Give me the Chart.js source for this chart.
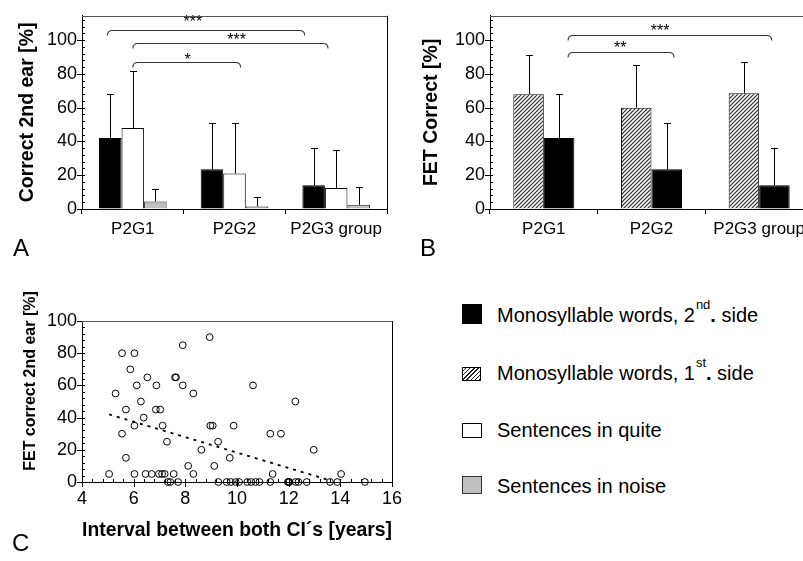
<!DOCTYPE html>
<html>
<head>
<meta charset="utf-8">
<script src="https://cdn.jsdelivr.net/npm/chart.js@4.4.1/dist/chart.umd.min.js"></script>
<style>
html,body{margin:0;padding:0;width:803px;height:561px;overflow:hidden;background:#fff;font-family:"Liberation Sans",Arial,sans-serif;color:#000;}
.box{position:absolute;}
.panel{position:absolute;font-size:24px;line-height:24px;}
.leg{position:absolute;left:497px;font-size:20px;line-height:20px;white-space:nowrap;}
.sup{font-size:13px;line-height:0;position:relative;top:-13px;margin-left:1px;}
.dot{font-weight:bold;line-height:0;}
.sw{position:absolute;left:462px;box-sizing:border-box;}
.ytitle{position:absolute;font-weight:bold;white-space:nowrap;text-align:center;transform:rotate(-90deg);}
</style>
</head>
<body>
<div class="box" style="left:0;top:0;width:400px;height:250px"><canvas id="chartA" width="400" height="250"></canvas></div>
<div class="box" style="left:400px;top:0;width:420px;height:250px"><canvas id="chartB" width="420" height="250"></canvas></div>
<div class="box" style="left:0;top:290px;width:410px;height:271px"><canvas id="chartC" width="410" height="271"></canvas></div>

<div class="panel" style="left:13px;top:236px">A</div>
<div class="panel" style="left:420px;top:236px">B</div>
<div class="panel" style="left:12px;top:531px">C</div>

<div class="ytitle" style="left:-70px;top:371px;width:200px;font-size:16px;line-height:20px">FET correct 2nd ear [%]</div>

<div class="sw" style="top:304px;width:20px;height:20px;background:#000"></div>
<div class="sw" style="top:367px;width:19px;height:14px;border:1px solid #000;background:repeating-linear-gradient(-45deg,#222 0 1px,#fff 1px 3px)"></div>
<div class="sw" style="top:423px;width:20px;height:15px;border:1px solid #000;background:#fff"></div>
<div class="sw" style="top:476px;width:20px;height:18px;border:1px solid #333;background:#c0c0c0"></div>

<div class="leg" style="top:305px">Monosyllable words, 2<span class="sup">nd</span><span class="dot">.</span> side</div>
<div class="leg" style="top:363px">Monosyllable words, 1<span class="sup">st</span><span class="dot">.</span> side</div>
<div class="leg" style="top:420px">Sentences in quite</div>
<div class="leg" style="top:476px">Sentences in noise</div>

<script>
// ---------------- DATA ----------------
const groups = ['P2G1', 'P2G2', 'P2G3 group'];
const barTickValues = [0, 20, 40, 60, 80, 100];

// Monosyllable words, 2nd side (mean, SD) - panels A and B
const monoSecondMean = [42, 23.5, 14];
const monoSecondSD   = [26, 27.5, 22];
// Monosyllable words, 1st side (panel B)
const monoFirstMean  = [68, 60, 68.5];
const monoFirstSD    = [23, 25, 18.5];
// Sentences in quite (panel A)
const sentQuietMean  = [48, 21, 12.5];
const sentQuietSD    = [34, 30, 22.5];
// Sentences in noise (panel A)
const sentNoiseMean  = [4.5, 1.5, 2.5];
const sentNoiseSD    = [7.5, 5.5, 10.5];

// Panel C scatter
const intervalYears = [5.05, 5.3, 5.55, 5.55, 5.7, 5.7, 5.87, 6.03, 6.03, 6.03, 6.12, 6.28, 6.39, 6.46, 6.53, 6.7, 6.86, 6.88, 6.98, 7.03, 7.1, 7.12, 7.2, 7.29, 7.32, 7.42, 7.55, 7.6, 7.64, 7.72, 7.9, 7.9, 8.11, 8.31, 8.31, 8.62, 8.94, 8.97, 9.06, 9.12, 9.27, 9.28, 9.6, 9.72, 9.76, 9.87, 9.95, 10.08, 10.4, 10.55, 10.62, 10.72, 10.87, 11.29, 11.29, 11.38, 11.7, 11.97, 12.0, 12.03, 12.26, 12.27, 12.38, 12.7, 12.97, 13.6, 13.88, 14.03, 14.95];
const fetCorrect    = [5, 55, 80, 30, 45, 15, 70, 80, 35, 5, 60, 50, 40, 5, 65, 5, 45, 60, 5, 45, 5, 35, 5, 25, 0, 0, 5, 65, 65, 0, 85, 60, 10, 55, 5, 20, 90, 35, 35, 10, 25, 0, 0, 15, 0, 35, 0, 0, 0, 0, 60, 0, 0, 0, 30, 5, 30, 0, 0, 0, 50, 0, 0, 0, 20, 0, 0, 5, 0];
const trendX = [5.05, 13.6];
const trendY = [42, 1];
const scatterXTicks = [4, 6, 8, 10, 12, 14, 16];
const scatterYTicks = [0, 20, 40, 60, 80, 100];

// Significance brackets (category units / value units)
const bracketsA = [
  {from: -0.25, to: 1.69, level: 106.2, text: '***', tx: 0.59, ty: 113.3},
  {from: 0.0,   to: 1.92, level: 98.2,  text: '***', tx: 1.02, ty: 102.7},
  {from: 0.0,   to: 1.06, level: 86.9,  text: '*',   tx: 0.54, ty: 90.4}
];
const bracketsB = [
  {from: 0.225, to: 2.116, level: 103.2, text: '***', tx: 1.08, ty: 107.6},
  {from: 0.225, to: 1.209, level: 92.9,  text: '**',  tx: 0.71, ty: 97.5}
];

// ---------------- PLUGINS ----------------
const FONT = '"Liberation Sans", Arial, Helvetica, sans-serif';
Chart.defaults.font.family = FONT;
Chart.defaults.color = '#000';

const errorBars = {
  id: 'errorBars',
  afterDatasetsDraw(chart) {
    const ctx = chart.ctx, ys = chart.scales.y;
    ctx.save();
    ctx.strokeStyle = '#000'; ctx.lineWidth = 1;
    chart.data.datasets.forEach((ds, i) => {
      if (!ds.errors) return;
      chart.getDatasetMeta(i).data.forEach((bar, j) => {
        const top = Math.round(ys.getPixelForValue(ds.data[j] + ds.errors[j])) + 0.5;
        const x = Math.round(bar.x) + 0.5;
        ctx.beginPath();
        ctx.moveTo(x, bar.y); ctx.lineTo(x, top);
        ctx.moveTo(x - 3.5, top); ctx.lineTo(x + 3.5, top);
        ctx.stroke();
      });
    });
    ctx.restore();
  }
};

const brackets = {
  id: 'brackets',
  afterDraw(chart, args, opts) {
    const ctx = chart.ctx, xs = chart.scales.x, ys = chart.scales.y;
    ctx.save();
    ctx.strokeStyle = '#333'; ctx.lineWidth = 1.1; ctx.fillStyle = '#000';
    ctx.font = '16px ' + FONT; ctx.textAlign = 'center'; ctx.textBaseline = 'alphabetic';
    (opts.items || []).forEach(b => {
      const x1 = xs.getPixelForValue(b.from), x2 = xs.getPixelForValue(b.to);
      const y = Math.round(ys.getPixelForValue(b.level)) + 0.5;
      const r = 5;
      ctx.beginPath();
      ctx.moveTo(x1, y + r);
      ctx.quadraticCurveTo(x1, y, x1 + r, y);
      ctx.lineTo(x2 - r, y);
      ctx.quadraticCurveTo(x2, y, x2, y + r);
      ctx.stroke();
      ctx.fillText(b.text, xs.getPixelForValue(b.tx), ys.getPixelForValue(b.ty) + 9);
    });
    ctx.restore();
  }
};

const frame = {
  id: 'frame',
  afterDraw(chart) {
    const {ctx, chartArea: a} = chart;
    ctx.save();
    ctx.lineWidth = 1;
    ctx.strokeStyle = '#555';
    ctx.beginPath(); ctx.moveTo(a.left, Math.round(a.top) + 0.5); ctx.lineTo(a.right, Math.round(a.top) + 0.5); ctx.stroke();
    ctx.strokeStyle = '#000';
    ctx.beginPath(); ctx.moveTo(Math.round(a.right) + 0.5, a.top); ctx.lineTo(Math.round(a.right) + 0.5, a.bottom); ctx.stroke();
    ctx.restore();
  }
};

const customTicks = {
  id: 'customTicks',
  beforeDatasetsDraw(chart, args, opts) {
    const ctx = chart.ctx;
    ctx.save();
    ctx.strokeStyle = '#000'; ctx.lineWidth = 1;
    (opts.axes || []).forEach(a => {
      const sc = chart.scales[a.id];
      const n = Math.round((a.max - a.min) / a.minor);
      for (let i = 0; i <= n; i++) {
        const v = a.min + i * a.minor;
        if (v > sc.max + 1e-6) break;
        const major = Math.abs(v / a.major - Math.round(v / a.major)) < 1e-6;
        const p = Math.round(sc.getPixelForValue(v)) + 0.5;
        ctx.beginPath();
        if (sc.isHorizontal()) {
          const y = Math.round(sc.top);
          if (major) { ctx.moveTo(p, y - 3); ctx.lineTo(p, y + 5); }
          else { ctx.moveTo(p, y); ctx.lineTo(p, y - 3); }
        } else {
          const x = Math.round(sc.right);
          if (major) { ctx.moveTo(x - 5, p); ctx.lineTo(x + 3, p); }
          else { ctx.moveTo(x, p); ctx.lineTo(x + 3, p); }
        }
        ctx.stroke();
      }
    });
    ctx.restore();
  }
};

function hatchPattern(ctx) {
  const c = document.createElement('canvas');
  c.width = 4; c.height = 4;
  const g = c.getContext('2d');
  g.fillStyle = '#fff'; g.fillRect(0, 0, 4, 4);
  g.strokeStyle = '#2a2a2a'; g.lineWidth = 1.2;
  g.beginPath();
  g.moveTo(0, 4); g.lineTo(4, 0);
  g.moveTo(-1, 1); g.lineTo(1, -1);
  g.moveTo(3, 5); g.lineTo(5, 3);
  g.stroke();
  return ctx.createPattern(c, 'repeat');
}

function barOptions(cfg) {
  return {
    responsive: false,
    animation: false,
    layout: {padding: {top: cfg.padTop, right: cfg.padRight, left: 0, bottom: 0}},
    plugins: {
      legend: {display: false},
      tooltip: {enabled: false},
      brackets: {items: cfg.brackets},
      customTicks: {axes: [{id: 'y', min: 0, max: cfg.max, major: 20, minor: 4}]}
    },
    scales: {
      x: {
        type: 'category',
        offset: true,
        grid: {offset: true, drawOnChartArea: false, drawTicks: true, tickLength: 5, color: '#000', tickColor: '#000'},
        border: {display: true, color: '#000', width: 1},
        ticks: {font: {size: 17}, padding: 5, color: '#000'},
        afterFit: s => { s.height = 41; }
      },
      y: {
        min: 0, max: cfg.max,
        grid: {drawOnChartArea: false, drawTicks: false},
        border: {display: true, color: '#000', width: 1},
        ticks: {font: {size: 18}, padding: 5, color: '#000'},
        afterBuildTicks: s => { s.ticks = barTickValues.map(v => ({value: v})); },
        title: {display: true, text: cfg.title, font: {size: 19.5, weight: 'bold'}, padding: {top: cfg.titlePad, bottom: 0}, color: '#000'},
        afterFit: s => { s.width = cfg.yWidth; }
      }
    }
  };
}

// ---------------- PANEL A ----------------
new Chart(document.getElementById('chartA'), {
  type: 'bar',
  data: {
    labels: groups,
    datasets: [
      {label: 'Monosyllable words, 2nd. side', data: monoSecondMean, errors: monoSecondSD, backgroundColor: '#000', borderColor: '#000', borderWidth: 1, barPercentage: 1, categoryPercentage: 0.665},
      {label: 'Sentences in quite', data: sentQuietMean, errors: sentQuietSD, backgroundColor: '#fff', borderColor: '#000', borderWidth: 1, barPercentage: 1, categoryPercentage: 0.665},
      {label: 'Sentences in noise', data: sentNoiseMean, errors: sentNoiseSD, backgroundColor: '#c0c0c0', borderColor: '#222', borderWidth: 1, barPercentage: 1, categoryPercentage: 0.665}
    ]
  },
  options: barOptions({padTop: 13, padRight: 13, max: 114.4, title: 'Correct 2nd ear [%]', titlePad: 16.3, yWidth: 82, brackets: bracketsA}),
  plugins: [customTicks, errorBars, brackets, frame]
});

// ---------------- PANEL B ----------------
const ctxB = document.getElementById('chartB').getContext('2d');
new Chart(ctxB, {
  type: 'bar',
  data: {
    labels: groups,
    datasets: [
      {label: 'Monosyllable words, 1st. side', data: monoFirstMean, errors: monoFirstSD, backgroundColor: hatchPattern(ctxB), borderColor: '#111', borderWidth: 1, barPercentage: 1, categoryPercentage: 0.567},
      {label: 'Monosyllable words, 2nd. side', data: monoSecondMean, errors: monoSecondSD, backgroundColor: '#000', borderColor: '#000', borderWidth: 1, barPercentage: 1, categoryPercentage: 0.567}
    ]
  },
  options: barOptions({padTop: 8, padRight: 7, max: 114.4, title: 'FET Correct [%]', titlePad: 20, yWidth: 90, brackets: bracketsB}),
  plugins: [customTicks, errorBars, brackets, frame]
});

// ---------------- PANEL C ----------------
new Chart(document.getElementById('chartC'), {
  type: 'scatter',
  data: {
    datasets: [
      {
        label: 'FET correct 2nd ear',
        data: intervalYears.map((x, i) => ({x: x, y: fetCorrect[i]})),
        pointRadius: 3.4, pointBorderWidth: 1, pointBorderColor: '#000', pointBackgroundColor: 'rgba(0,0,0,0)',
        clip: false
      },
      {
        label: 'trend',
        data: trendX.map((x, i) => ({x: x, y: trendY[i]})),
        showLine: true, borderColor: '#000', borderWidth: 1.8, borderDash: [3, 5], pointRadius: 0, fill: false
      }
    ]
  },
  options: {
    responsive: false,
    animation: false,
    layout: {padding: {top: 31, right: 18, left: 0, bottom: 0}},
    plugins: {
      legend: {display: false},
      tooltip: {enabled: false},
      customTicks: {axes: [
        {id: 'x', min: 4, max: 16, major: 2, minor: 0.4},
        {id: 'y', min: 0, max: 100, major: 20, minor: 4}
      ]}
    },
    scales: {
      x: {
        type: 'linear', min: 4, max: 16,
        grid: {display: true, drawOnChartArea: false, drawTicks: false},
        border: {display: true, color: '#000', width: 1},
        ticks: {font: {size: 18}, padding: 6, color: '#000'},
        afterBuildTicks: s => { s.ticks = scatterXTicks.map(v => ({value: v})); },
        title: {display: true, text: 'Interval between both CI´s [years]', font: {size: 20, weight: 'bold'}, padding: {top: 0, bottom: 19}, color: '#000'},
        afterFit: s => { s.height = 79; }
      },
      y: {
        type: 'linear', min: 0, max: 100,
        grid: {display: true, drawOnChartArea: false, drawTicks: false},
        border: {display: true, color: '#000', width: 1},
        ticks: {font: {size: 18}, padding: 5, color: '#000'},
        afterBuildTicks: s => { s.ticks = scatterYTicks.map(v => ({value: v})); },
        afterFit: s => { s.width = 82; }
      }
    }
  },
  plugins: [customTicks, frame]
});
</script>
</body>
</html>
